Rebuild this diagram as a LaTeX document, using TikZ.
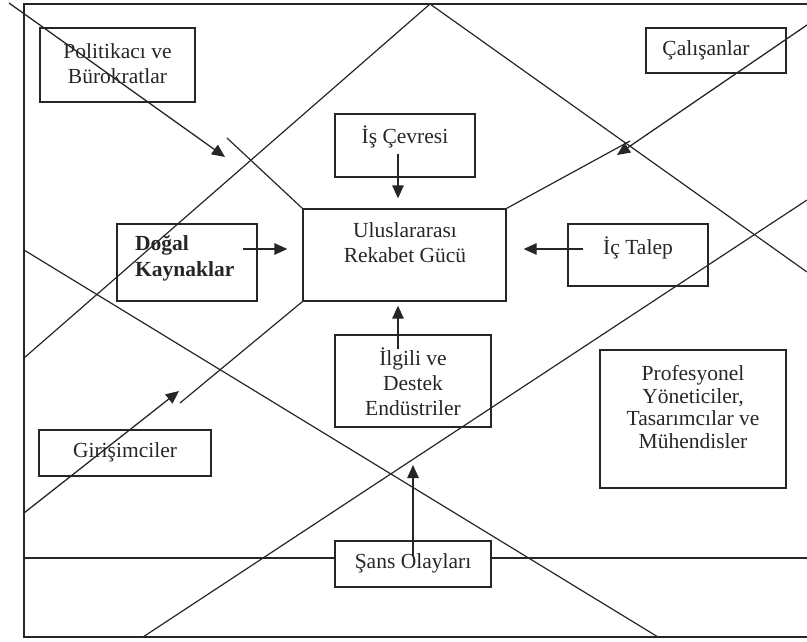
\documentclass[tikz,border=0pt]{standalone}
\usepackage{fontspec}
\setmainfont{Liberation Serif}
\usetikzlibrary{arrows.meta,calc}

\begin{document}
\begin{tikzpicture}[
    x=1pt, y=-1pt,
    frameLine/.style={
        draw=black!85, line width=1.2pt
    },
    boxNode/.style={
        rectangle, draw=black!85, line width=1.3pt, inner sep=0pt
    },
    boxText/.style={
        font=\fontsize{21.5}{25}\selectfont, text=black!85,
        align=center, inner sep=0pt
    },
    forceArrow/.style={
        -{Triangle[length=13pt,width=11.5pt]}, line width=1.3pt, draw=black!85
    }
]
    \useasboundingbox (0,0) rectangle (807,641);

    % Outer frame
    \draw[frameLine] (812,4) -- (24,4) -- (24,637) -- (812,637);

    % Boxes
    \node[boxNode, minimum width=155, minimum height=74] (politik) at (117.5,65) {};
    \node[boxNode, minimum width=140, minimum height=45] (calisan) at (716,50.5) {};
    \node[boxNode, minimum width=140, minimum height=63] (isCevre) at (405,145.5) {};
    \node[boxNode, minimum width=203, minimum height=92] (ulus) at (404.5,255) {};
    \node[boxNode, minimum width=140, minimum height=77] (dogal) at (187,262.5) {};
    \node[boxNode, minimum width=140, minimum height=62] (icTalep) at (638,255) {};
    \node[boxNode, minimum width=156, minimum height=92] (ilgili) at (413,381) {};
    \node[boxNode, minimum width=186, minimum height=138] (prof) at (693,419) {};
    \node[boxNode, minimum width=172, minimum height=46] (girisim) at (125,453) {};
    \node[boxNode, minimum width=156, minimum height=46] (sans) at (413,564) {};

    % Box texts
    \node[boxText] (politikText) at (117.5,64) {Politikacı ve\\Bürokratlar};
    \node[boxText] (calisanText) at (706,50) {Çalışanlar};
    \node[boxText] (isText) at (405,137) {İş Çevresi};
    \node[boxText] (ulusText) at (405,243) {Uluslararası\\Rekabet Gücü};
    \node[boxText, font=\fontsize{21.5}{26}\selectfont\bfseries, align=left, anchor=west] (dogalText) at (135,258) {Doğal\\Kaynaklar};
    \node[boxText] (icText) at (638,248) {İç Talep};
    \node[boxText] (ilgiliText) at (413,382) {İlgili ve\\Destek\\Endüstriler};
    \node[boxText, font=\fontsize{21.5}{22.5}\selectfont] (profText) at (693,407) {Profesyonel\\Yöneticiler,\\Tasarımcılar ve\\Mühendisler};
    \node[boxText] (girisimText) at (125,452) {Girişimciler};
    \node[boxText] (sansText) at (413,563) {Şans Olayları};

    % Diamond lines
    \coordinate (apex) at (430,4);
    \draw[frameLine] (apex) -- (24,358);
    \draw[frameLine] (apex) -- (807,272);
    \draw[frameLine] (24,250) -- (658,637);
    \draw[frameLine] (143,637) -- (807,200);
    \draw[frameLine] (ulus.north west) -- (227,138);
    \draw[frameLine] (ulus.north east) -- (630,141);
    \draw[frameLine] (ulus.south west) -- (180,403);

    % Chance line
    \coordinate (hLeft) at (24,558);
    \coordinate (hRight) at (812,558);
    \draw[frameLine] (hLeft) -- (sans.west |- hLeft);
    \draw[frameLine] (sans.east |- hRight) -- (hRight);

    % Arrows into the centre
    \draw[forceArrow] ($(isCevre.south)+(-7,-24)$) -- ($(ulus.north)+(-6.5,-10)$);
    \draw[forceArrow] ($(dogal.east)+(-15,-13.5)$) -- ($(ulus.west)+(-15,-6)$);
    \draw[forceArrow] ($(icTalep.west)+(16,-6)$) -- ($(ulus.east)+(17,-6)$);
    \draw[forceArrow] ($(ilgili.north)+(-15,15)$) -- ($(ulus.south)+(-6.5,4)$);

    % Outer arrows
    \coordinate (politikStart) at (9,3);
    \coordinate (politikTip) at (225,157);
    \coordinate (calisanStart) at (807,25);
    \coordinate (calisanTip) at (617,155);
    \coordinate (girisimStart) at (24,513);
    \coordinate (girisimTip) at (179,391);
    \coordinate (sansTip) at (413,465);
    \draw[forceArrow] (politikStart) -- (politikTip);
    \draw[forceArrow] (calisanStart) -- (calisanTip);
    \draw[forceArrow] (girisimStart) -- (girisimTip);
    \draw[forceArrow] ($(sans.north)+(0,16)$) -- (sansTip);

\end{tikzpicture}
\end{document}
